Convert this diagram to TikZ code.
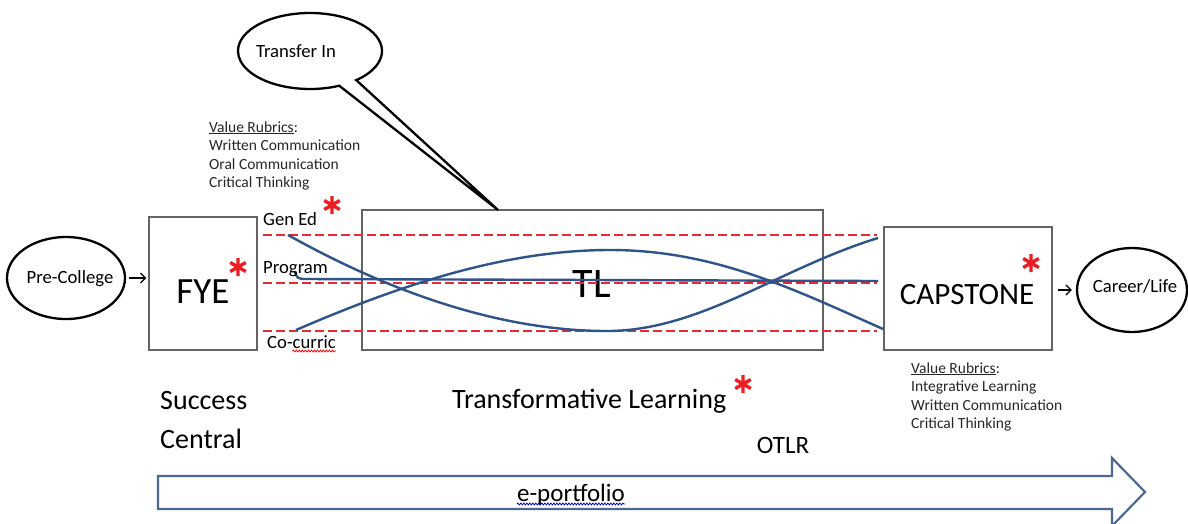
\documentclass[tikz,border=0pt]{standalone}
\usepackage{fontspec}
\setmainfont{Carlito}
\usetikzlibrary{shapes.geometric,shapes.callouts,arrows.meta,decorations.pathmorphing}
\definecolor{curveblue}{RGB}{46,84,138}
\definecolor{dashred}{RGB}{230,42,50}
\definecolor{boxgray}{RGB}{100,100,100}
\definecolor{arrowblue}{RGB}{74,106,148}
\definecolor{astred}{RGB}{235,30,35}
\begin{document}
\begin{tikzpicture}[x=1pt,y=-1pt,
  oval/.style={ellipse, draw=black, line width=2.3pt, inner sep=0pt},
  stagebox/.style={draw=boxgray, line width=1.1pt, inner sep=0pt},
  small/.style={font=\fontsize{18.7}{22}\selectfont},
  rubric/.style={font=\fontsize{15.5}{18.5}\selectfont, inner sep=0pt, text=black!85, anchor=base west},
  lbl/.style={font=\fontsize{18.7}{22}\selectfont, inner sep=0pt, anchor=base west},
  bigtext/.style={font=\fontsize{28}{34}\selectfont, inner sep=0pt, anchor=base west},
  track/.style={dashred, line width=2.7pt, dash pattern=on 8.5pt off 4.5pt},
  strand/.style={curveblue, line width=2.4pt},
  flow/.style={-{Straight Barb[length=5pt,width=10pt]}, line width=1.3pt},
  squiggle/.style={line width=0.8pt, decorate, decoration={snake, amplitude=0.9pt, segment length=3pt}},
  ast/.pic={\draw[astred, line width=3.4pt] (0,-9)--(0,9) (-7.8,-4.5)--(7.8,4.5) (-7.8,4.5)--(7.8,-4.5);}
]
\useasboundingbox (0,0) rectangle (1188,523);
\fill[white] (0,0) rectangle (1188,523);

% stage boxes
\node[stagebox, minimum width=108pt, minimum height=133pt] (fye) at (203,283.5) {};
\node[stagebox, minimum width=461pt, minimum height=140pt] (tl) at (592.5,280) {};
\node[stagebox, minimum width=168pt, minimum height=123pt] (cap) at (968,288.5) {};
\node[font=\fontsize{37}{44}\selectfont, inner sep=0pt, anchor=base] (fyet) at (203,303) {FYE};
\node[font=\fontsize{42}{50}\selectfont, inner sep=0pt, anchor=base] (tlt) at (592,297) {TL};
\node[font=\fontsize{31}{37}\selectfont, inner sep=0pt, anchor=base] (capt) at (967,304) {CAPSTONE};

% ovals
\node[oval, minimum width=118pt, minimum height=82pt] (pre) at (66,278) {};
\node[small, inner sep=0pt, anchor=base] (pret) at (70,283) {Pre-College};
\node[oval, minimum width=110pt, minimum height=84pt] (career) at (1132,290) {};
\node[small, inner sep=0pt, anchor=base] (careert) at (1135,292) {Career/Life};
\coordinate (tip) at (498,210);
\node[ellipse callout, draw=black, line width=2.3pt, inner sep=0pt, minimum width=144pt, minimum height=76pt,
      callout absolute pointer={(tip)}, callout pointer arc=16] (transfer) at (310,51) {};
\node[small, inner sep=0pt, anchor=base] (transfert) at (296,57) {Transfer In};

% flow arrows
\draw[flow, shorten <=3pt, shorten >=2pt] (pre.east) -- (pre.east -| fye.west);
\draw[flow, shorten <=5pt, shorten >=4pt] (career.west -| cap.east) -- (career.west);

% tracks
\coordinate (g0) at (263,235); \coordinate (g1) at (877,235);
\coordinate (p0) at (263,283); \coordinate (p1) at (877,283);
\coordinate (c0) at (263,331); \coordinate (c1) at (877,331);
\draw[track] (g0) -- (g1);
\draw[track] (p0) -- (p1);
\draw[track] (c0) -- (c1);

% strands
\draw[strand] (288,235) .. controls (390,292) and (500,331) .. (607,331)
              .. controls (700,331) and (780,268) .. (878,238);
\draw[strand] (296,330) .. controls (400,285) and (505,250) .. (610,250)
              .. controls (715,250) and (795,290) .. (883,329);
\draw[strand] (295,271) .. controls (296,278) and (298,279) .. (306,279) -- (878,281);

% track labels
\node[lbl] (gened) at (263,225) {Gen Ed};
\node[lbl] (prog) at (263,273) {Program};
\node[lbl] (cocur) at (267,348) {Co-curric};
\draw[squiggle, red] ([xshift=25.5pt,yshift=-3pt]cocur.base west) -- ([yshift=-3pt]cocur.base east);

% rubrics
\foreach \t [count=\i] in {{\underline{Value Rubrics}:},Written Communication,Oral Communication,Critical Thinking}
  \node[rubric] (rl\i) at (209,{132+18.5*(\i-1)}) {\t};
\foreach \t [count=\i] in {{\underline{Value Rubrics}:},Integrative Learning,Written Communication,Critical Thinking}
  \node[rubric] (rr\i) at (911,{373+18.5*(\i-1)}) {\t};

% bottom labels
\node[bigtext] (succ) at (160,409) {Success};
\node[bigtext] (central) at (160,448) {Central};
\node[bigtext] (transf) at (452,408) {Transformative Learning};
\node[font=\fontsize{25}{30}\selectfont, inner sep=0pt, anchor=base] (otlr) at (783,453) {OTLR};

% asterisks
\pic at (238,267) {ast};
\pic at (332,205) {ast};
\pic at (1031,263) {ast};
\pic at (743,384) {ast};

% e-portfolio arrow
\draw[arrowblue, line width=2.2pt, line join=miter, fill=white]
  (158,476) -- (1112,476) -- (1112,458) -- (1145,492) -- (1112,526) -- (1112,509) -- (158,509) -- cycle;
\node[font=\fontsize{25}{30}\selectfont, inner sep=0pt, anchor=base] (port) at (571,501) {e-portfolio};
\draw[squiggle, blue!70!black] ([yshift=-3pt]port.base west) -- ([yshift=-3pt]port.base east);
\end{tikzpicture}
\end{document}
